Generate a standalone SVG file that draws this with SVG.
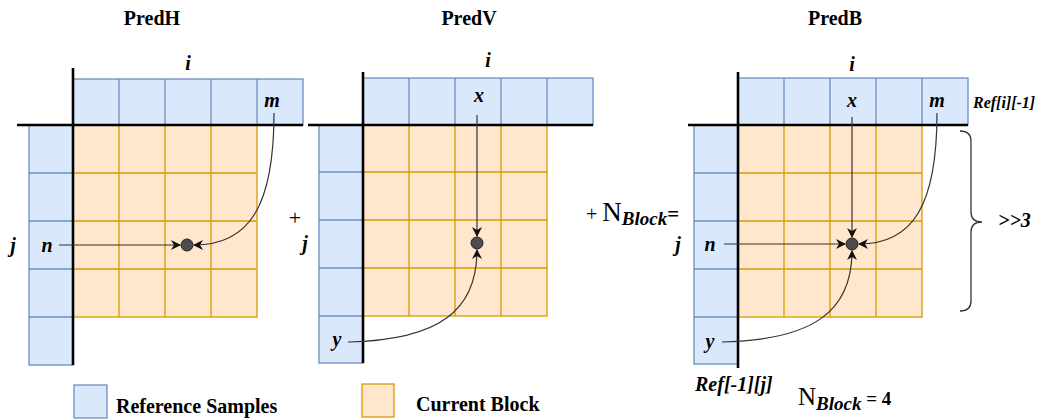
<svg xmlns="http://www.w3.org/2000/svg" width="1041" height="419" viewBox="0 0 1041 419">
<style>
.bg{fill:#ffffff}
.ref{fill:#dae8fc;stroke:#6c8ebf;stroke-width:1.3}
.cur{fill:#ffe6cc;stroke:#d79b00;stroke-width:1.3}
.refl{fill:none;stroke:#6c8ebf;stroke-width:1.3}
.curl{fill:none;stroke:#d79b00;stroke-width:1.3}
.axis{stroke:#000;stroke-width:2.6;fill:none}
.title{font-family:"Liberation Serif",serif;font-weight:bold;font-size:20px;fill:#000}
.lbl{font-family:"Liberation Serif",serif;font-weight:bold;font-style:italic;font-size:20px;fill:#000}
.small{font-family:"Liberation Serif",serif;font-weight:bold;font-style:italic;font-size:16px;fill:#000}
.plain{font-family:"Liberation Serif",serif;font-size:22px;fill:#000}
.conn{fill:none;stroke:#333;stroke-width:1.2}
.dot{fill:#4d4d4d;stroke:#222;stroke-width:1}
</style>
<defs>
<marker id="arr" viewBox="0 0 10 10" refX="9" refY="5" markerWidth="10" markerHeight="10" markerUnits="userSpaceOnUse" orient="auto">
<path d="M0,0 L10,5 L0,10 L3,5 z" fill="#111"/>
</marker>
</defs>
<rect class="bg" x="0" y="0" width="1041" height="419"/>

<!-- Titles -->
<g id="titles">
<text class="title" x="152" y="25" text-anchor="middle">PredH</text>
<text class="title" x="469" y="25" text-anchor="middle">PredV</text>
<text class="title" x="835" y="25" text-anchor="middle">PredB</text>
</g>

<!-- PredH panel -->
<g id="predH">
<rect class="ref" x="73" y="79" width="230" height="46"/>
<path class="refl" d="M119,79V125M165,79V125M211,79V125M257,79V125"/>
<rect class="ref" x="29" y="125" width="44" height="240"/>
<path class="refl" d="M29,173H73M29,221H73M29,269H73M29,317H73"/>
<rect class="cur" x="73" y="125" width="184" height="192"/>
<path class="curl" d="M119,125V317M165,125V317M211,125V317M73,173H257M73,221H257M73,269H257"/>
<path class="axis" d="M17,125H303M73,68V365"/>
<text class="lbl" x="188" y="70" text-anchor="middle">i</text>
<text class="lbl" x="272" y="107" text-anchor="middle">m</text>
<text class="lbl" x="47" y="252" text-anchor="middle">n</text>
<text class="lbl" x="13" y="252" text-anchor="middle">j</text>
<circle class="dot" cx="187" cy="245" r="6"/>
</g>

<!-- PredV panel -->
<g id="predV">
<rect class="ref" x="363" y="78" width="230" height="47"/>
<path class="refl" d="M409,78V125M455,78V125M501,78V125M547,78V125"/>
<rect class="ref" x="319" y="125" width="44" height="238"/>
<path class="refl" d="M319,172H363M319,220H363M319,268H363M319,316H363"/>
<rect class="cur" x="363" y="125" width="184" height="191"/>
<path class="curl" d="M409,125V316M455,125V316M501,125V316M363,172H547M363,220H547M363,268H547"/>
<path class="axis" d="M308,125H593M363,72V363"/>
<text class="lbl" x="488" y="67" text-anchor="middle">i</text>
<text class="lbl" x="479" y="102" text-anchor="middle">x</text>
<text class="lbl" x="337" y="346" text-anchor="middle">y</text>
<text class="lbl" x="305" y="250" text-anchor="middle">j</text>
<circle class="dot" cx="477" cy="243" r="6"/>
</g>

<!-- PredB panel -->
<g id="predB">
<rect class="ref" x="738" y="78" width="230" height="47"/>
<path class="refl" d="M784,78V125M830,78V125M876,78V125M922,78V125"/>
<rect class="ref" x="694" y="125" width="44" height="239"/>
<path class="refl" d="M694,173H738M694,221H738M694,269H738M694,317H738"/>
<rect class="cur" x="738" y="125" width="184" height="192"/>
<path class="curl" d="M784,125V317M830,125V317M876,125V317M738,173H922M738,221H922M738,269H922"/>
<path class="axis" d="M688,125H968M738,72V368"/>
<text class="lbl" x="852" y="71" text-anchor="middle">i</text>
<text class="lbl" x="852" y="107" text-anchor="middle">x</text>
<text class="lbl" x="937" y="107" text-anchor="middle">m</text>
<text class="lbl" x="710" y="251" text-anchor="middle">n</text>
<text class="lbl" x="678" y="251" text-anchor="middle">j</text>
<text class="lbl" x="710" y="348" text-anchor="middle">y</text>
<circle class="dot" cx="852" cy="244" r="6"/>
<text class="small" x="973" y="108">Ref[i][-1]</text>
<text class="lbl" x="695" y="391">Ref[-1][j]</text>
<path d="M960,131 Q971,131 971,141 V212 Q971,222 982,222 Q971,222 971,232 V301 Q971,311 960,311" fill="none" stroke="#333" stroke-width="1.3"/>
<text class="lbl" x="998" y="227">&gt;&gt;3</text>
</g>

<!-- Operators -->
<g id="operators">
<text class="plain" x="295" y="225" text-anchor="middle">+</text>
<text x="586" y="221" font-family="Liberation Serif,serif" fill="#000"><tspan font-size="20">+</tspan><tspan font-size="27" dx="5">N</tspan><tspan font-size="19" font-weight="bold" font-style="italic" dy="4">Block</tspan><tspan font-size="21" font-weight="bold" dy="-4">=</tspan></text>
<text x="798" y="405" font-family="Liberation Serif,serif" fill="#000"><tspan font-size="25">N</tspan><tspan font-size="19" font-weight="bold" font-style="italic" dy="5">Block</tspan><tspan font-size="19" font-weight="bold" dy="-5"> = 4</tspan></text>
</g>

<!-- Legend -->
<g id="legend-ref">
<rect class="ref" x="74" y="385" width="33" height="33"/>
<text class="title" x="116" y="413">Reference Samples</text>
</g>
<g id="legend-cur">
<rect class="cur" x="362" y="384" width="32" height="33"/>
<text class="title" x="416" y="411">Current Block</text>
</g>

<!-- Connectors -->
<g id="connectors">
<path class="conn" d="M59,245 H180" marker-end="url(#arr)"/>
<path class="conn" d="M274,113 C274,205 250,245 194,245" marker-end="url(#arr)"/>
<path class="conn" d="M477,115 V236" marker-end="url(#arr)"/>
<path class="conn" d="M348,342 C440,340 477,310 477,250" marker-end="url(#arr)"/>
<path class="conn" d="M724,244 H845" marker-end="url(#arr)"/>
<path class="conn" d="M852,117 V237" marker-end="url(#arr)"/>
<path class="conn" d="M937,113 C937,205 913,244 859,244" marker-end="url(#arr)"/>
<path class="conn" d="M722,342 C815,340 852,310 852,251" marker-end="url(#arr)"/>
</g>
</svg>
